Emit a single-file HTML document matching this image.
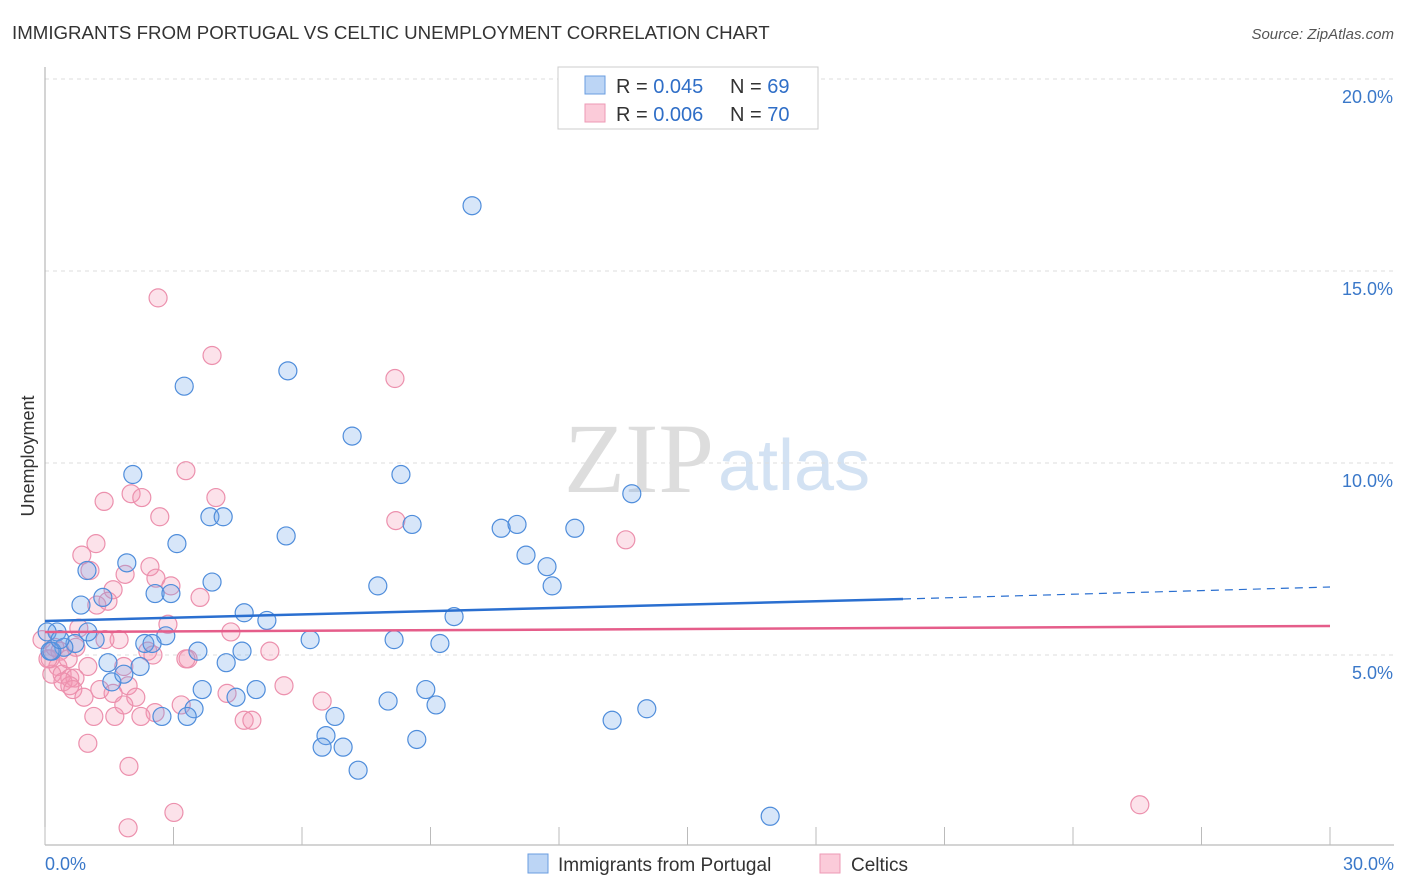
<!DOCTYPE html>
<html><head><meta charset="utf-8"><style>
body{margin:0;background:#fff;font-family:"Liberation Sans",sans-serif;}
svg{display:block}
</style></head><body>
<svg id="c" width="1406" height="892">
<text x="12" y="39" font-size="18.7" fill="#333">IMMIGRANTS FROM PORTUGAL VS CELTIC UNEMPLOYMENT CORRELATION CHART</text>
<text x="1394" y="39" font-size="15" fill="#555" font-style="italic" text-anchor="end">Source: ZipAtlas.com</text>
<text x="34" y="456" font-size="18" fill="#333" transform="rotate(-90 34 456)" text-anchor="middle">Unemployment</text>
<text x="714" y="492" font-size="100" fill="#ddd" text-anchor="end" font-family="Liberation Serif">ZIP</text>
<text x="718" y="490" font-size="72" fill="#d3e2f3">atlas</text>
<g id="grid"></g><g id="pts"></g><g id="lines"></g>
<g>
<rect x="558" y="67" width="260" height="62" fill="#fff" stroke="#ccc"/>
<rect x="585" y="76" width="20" height="18" fill="#bcd5f5" stroke="#6a9de0"/>
<rect x="585" y="104" width="20" height="18" fill="#fbcbd9" stroke="#ee9ab5"/>
<text x="616" y="93" font-size="20" fill="#333">R = <tspan fill="#2f6ec7">0.045</tspan></text>
<text x="730" y="93" font-size="20" fill="#333">N = <tspan fill="#2f6ec7">69</tspan></text>
<text x="616" y="121" font-size="20" fill="#333">R = <tspan fill="#2f6ec7">0.006</tspan></text>
<text x="730" y="121" font-size="20" fill="#333">N = <tspan fill="#2f6ec7">70</tspan></text>
</g>
<g>
<rect x="528" y="854" width="20" height="19" fill="#bcd5f5" stroke="#6a9de0"/>
<text x="558" y="871" font-size="19" fill="#333">Immigrants from Portugal</text>
<rect x="820" y="854" width="20" height="19" fill="#fbcbd9" stroke="#ee9ab5"/>
<text x="851" y="871" font-size="19" fill="#333">Celtics</text>
</g>
</svg>
<script>
const blueX=[9.97,5.67,3.25,7.17,8.31,2.05,13.70,3.85,4.16,8.57,10.65,11.02,12.37,5.63,3.08,1.91,11.23,11.72,0.98,3.90,7.77,11.84,2.57,2.94,1.35,0.84,4.65,5.18,9.55,0.28,1.17,2.82,6.19,8.15,9.22,0.70,2.33,2.50,0.44,0.16,3.57,4.60,1.47,2.22,4.23,1.56,1.84,3.67,4.93,4.46,8.89,8.01,9.13,3.48,2.73,3.32,6.77,13.24,14.05,6.56,8.68,6.47,6.96,7.31,16.93,0.05,0.12,1.00,0.35];
const blueY=[16.7,12.4,12.0,10.7,9.7,9.7,9.2,8.6,8.6,8.4,8.3,8.4,8.3,8.1,7.9,7.4,7.6,7.3,7.2,6.9,6.8,6.8,6.6,6.6,6.5,6.3,6.1,5.9,6.0,5.6,5.4,5.5,5.4,5.4,5.3,5.3,5.3,5.3,5.2,5.1,5.1,5.1,4.8,4.7,4.8,4.3,4.5,4.1,4.1,3.9,4.1,3.8,3.7,3.6,3.4,3.4,3.4,3.3,3.6,2.9,2.8,2.6,2.6,2.0,0.8,5.6,5.1,5.6,5.4];
const pinkX=[2.64,3.90,8.17,3.29,1.38,2.01,2.26,3.99,2.68,8.19,13.56,1.19,0.86,2.45,1.87,1.05,2.59,2.94,1.59,3.62,1.21,1.47,2.87,0.79,4.34,1.73,2.40,5.25,0.35,0.12,0.72,1.40,2.52,3.34,3.29,0.30,1.00,1.84,0.16,0.40,0.58,0.70,0.42,0.58,1.28,5.58,1.94,1.59,0.65,0.91,4.25,2.12,6.47,3.18,1.84,2.57,1.14,1.63,2.24,4.65,4.83,1.00,1.96,1.94,3.01,25.56,0.07,0.23,0.54,-0.07];
const pinkY=[14.3,12.8,12.2,9.8,9.0,9.2,9.1,9.1,8.6,8.5,8.0,7.9,7.6,7.3,7.1,7.2,7.0,6.8,6.7,6.5,6.3,6.4,5.8,5.7,5.6,5.4,5.1,5.1,5.1,4.9,5.2,5.4,5.0,4.9,4.9,4.7,4.7,4.7,4.5,4.5,4.4,4.4,4.3,4.2,4.1,4.2,4.2,4.0,4.1,3.9,4.0,3.9,3.8,3.7,3.7,3.5,3.4,3.4,3.4,3.3,3.3,2.7,2.1,0.5,0.9,1.1,4.9,5.2,4.9,5.4];
const yTicks=[5,10,15,20];
const xTickVals=[0,3,6,9,12,15,18,21,24,27,30];
const X=v=>45+v/30*1285, Y=v=>847-v/5*192;
const ns='http://www.w3.org/2000/svg';
function mk(tag,a,parent){const e=document.createElementNS(ns,tag);for(const k in a)e.setAttribute(k,a[k]);document.getElementById(parent).appendChild(e);return e;}
yTicks.forEach(t=>{
 const l=mk('line',{x1:45,x2:1394,y1:Y(t),y2:Y(t),stroke:'#ddd','stroke-dasharray':'4,4'},'grid');
 
 
 const tx=mk('text',{x:1393,y:Y(t)+24,'font-size':18,fill:'#3a78c9','text-anchor':'end'},'grid');tx.textContent=t.toFixed(1)+'%';
 
 
});
mk('line',{x1:45,x2:45,y1:67,y2:845,stroke:'#aaa'},'grid');
mk('line',{x1:45,x2:1394,y1:845,y2:845,stroke:'#aaa'},'grid');
xTickVals.forEach(t=>{const l=mk('line',{x1:X(t),x2:X(t),y1:827,y2:845,stroke:'#bbb'},'grid');
 
 });
let t0=mk('text',{x:45,y:870,'font-size':18,fill:'#3a78c9'},'grid');t0.textContent='0.0%';


let t1=mk('text',{x:1394,y:870,'font-size':18,fill:'#3a78c9','text-anchor':'end'},'grid');t1.textContent='30.0%';


pinkX.forEach((x,i)=>{const c=mk('circle',{cx:X(x),cy:Y(pinkY[i]),r:9,fill:'rgba(244,150,180,0.28)',stroke:'#ec90ad','stroke-width':1.2},'pts');
 
 });
blueX.forEach((x,i)=>{const c=mk('circle',{cx:X(x),cy:Y(blueY[i]),r:9,fill:'rgba(110,165,235,0.28)',stroke:'#4f8ddb','stroke-width':1.2},'pts');
 
 });
const bl=mk('line',{x1:45,y1:621,x2:903,y2:599,stroke:'#2a6fd0','stroke-width':2.5},'lines');


const bd=mk('line',{x1:903,y1:599,x2:1330,y2:587,stroke:'#2a6fd0','stroke-width':1.2,'stroke-dasharray':'8,6'},'lines');


const pl=mk('line',{x1:45,y1:632,x2:1330,y2:626,stroke:'#e55d8a','stroke-width':2.5},'lines');


</script>
</body></html>
